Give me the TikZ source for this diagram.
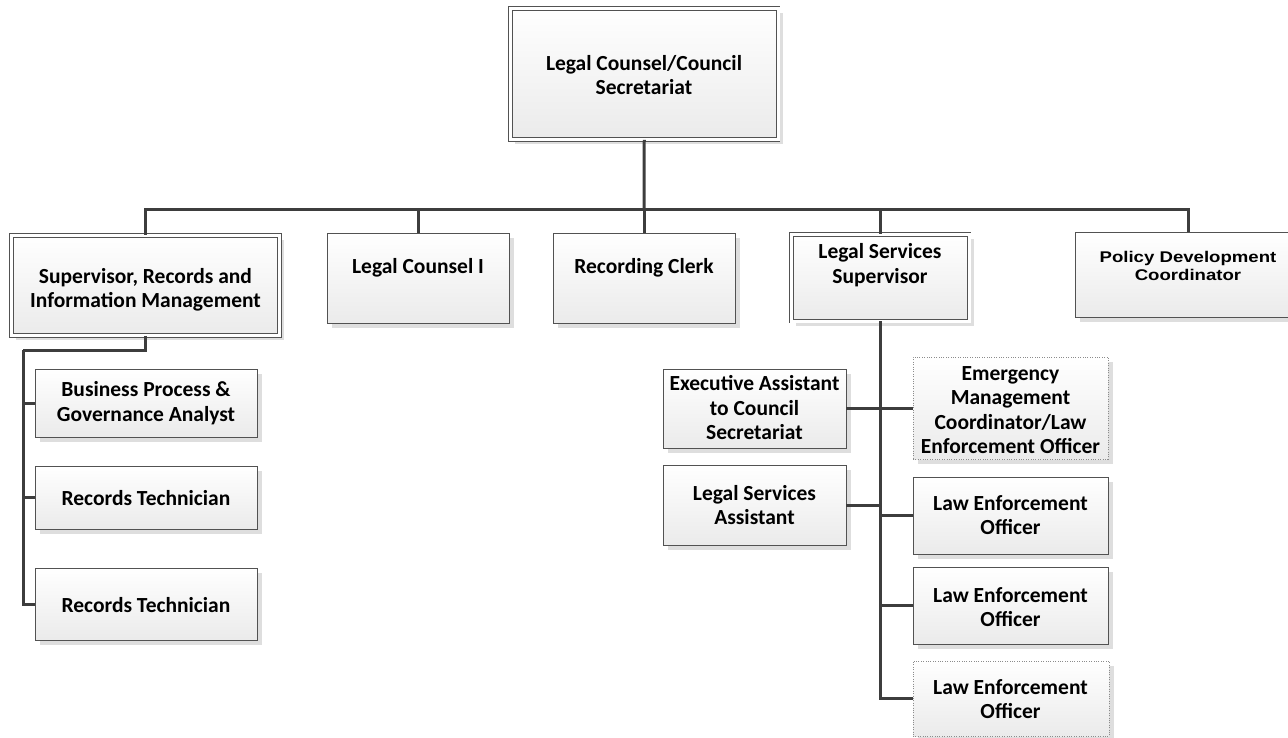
\documentclass[tikz,border=0pt]{standalone}
\usepackage{fontspec}
\setmainfont{Carlito}
\newfontfamily\arialfont{Liberation Sans}
\usetikzlibrary{fit,shadows}
\tikzset{
  wire/.style={draw=black!76, line width=3pt},
  card/.style={draw=black!68, line width=0.8pt, top color=white, bottom color=black!8,
    inner sep=0pt,
    drop shadow={shadow xshift=4.5pt, shadow yshift=-4.5pt, fill=black!13, opacity=1}},
  dcard/.style={card, double=white, double distance=3pt, line width=0.7pt},
  vcard/.style={card, draw=black!45, line width=0.6pt, dash pattern=on 0.8pt off 1.6pt},
  lbl/.style={align=center, font=\bfseries\fontsize{21.5}{24.5}\selectfont, text=black, inner sep=0pt},
  albl/.style={align=center, font=\arialfont\bfseries\fontsize{15.5}{18}\selectfont, text=black,
    inner sep=0pt, xscale=1.2},
}
\begin{document}
\begin{tikzpicture}[x=1pt,y=-1pt]
\useasboundingbox (0,0) rectangle (1288,737);

% top level
\node[dcard, fit={(510.5,8.5) (778,139.5)}] (top) {};
\node[lbl] (top-t) at (644,75) {Legal Counsel/Council\\Secretariat};

% second level
\node[dcard, fit={(11.5,235.5) (279.5,335.5)}] (sup) {};
\node[lbl] (sup-t) at (145.5,290) {Supervisor, Records and\\Information Management};

\node[card, fit={(327,233) (509,323)}] (lc) {};
\node[lbl] (lc-t) at (418,268) {Legal Counsel I};

\node[card, fit={(553,233) (735,323)}] (rc) {};
\node[lbl] (rc-t) at (644,268) {Recording Clerk};

\node[dcard, fit={(791.5,234.5) (969,321)}] (lss) {};
\node[lbl] (lss-t) at (880,265) {Legal Services\\Supervisor};

\node[card, fit={(1075,232) (1301,317)}] (pol) {};
\node[albl] (pol-t) at (1188,266) {Policy Development\\Coordinator};

% records and information management staff
\node[card, fit={(35,369) (257,437)}] (biz) {};
\node[lbl] (biz-t) at (146,403) {Business Process \&\\Governance Analyst};

\node[card, fit={(35,466) (257,529)}] (rt1) {};
\node[lbl] (rt1-t) at (146,498) {Records Technician};

\node[card, fit={(35,568) (257,640)}] (rt2) {};
\node[lbl] (rt2-t) at (146,605) {Records Technician};

% legal services staff
\node[card, fit={(663,369) (846,448)}] (exa) {};
\node[lbl] (exa-t) at (754.5,408) {Executive Assistant\\to Council\\Secretariat};

\node[vcard, fit={(913,357) (1108,459)}] (emc) {};
\node[lbl] (emc-t) at (1010.5,410) {Emergency\\Management\\Coordinator/Law\\Enforcement Officer};

\node[card, fit={(663,465) (846,545)}] (lsa) {};
\node[lbl] (lsa-t) at (754.5,505) {Legal Services\\Assistant};

\node[card, fit={(913,477) (1108,554)}] (leo1) {};
\node[lbl] (leo1-t) at (1010.5,515) {Law Enforcement\\Officer};

\node[card, fit={(913,567) (1108,644)}] (leo2) {};
\node[lbl] (leo2-t) at (1010.5,607) {Law Enforcement\\Officer};

\node[vcard, fit={(913,661) (1109,736)}] (leo3) {};
\node[lbl] (leo3-t) at (1010.5,699) {Law Enforcement\\Officer};

% connectors
\coordinate (bus) at (644,209);
\coordinate (lrail) at (23,350);
\draw[wire] (top.south) -- (bus);
\draw[wire] (bus) -| (sup.north);
\draw[wire] (bus) -| (lc.north);
\draw[wire] (bus) -- (rc.north);
\draw[wire] (bus) -| (lss.north);
\draw[wire] (bus) -| (pol.north);

\draw[wire] (sup.south) |- (lrail);
\draw[wire] (lrail) |- (biz.west);
\draw[wire] (lrail) |- (rt1.west);
\draw[wire] (lrail) |- (rt2.west);

\draw[wire] (lss.south) |- (exa.east);
\draw[wire] (lss.south) |- (emc.west);
\draw[wire] (lss.south) |- (lsa.east);
\draw[wire] (lss.south) |- (leo1.west);
\draw[wire] (lss.south) |- (leo2.west);
\draw[wire] (lss.south) |- (leo3.west);
\end{tikzpicture}
\end{document}
